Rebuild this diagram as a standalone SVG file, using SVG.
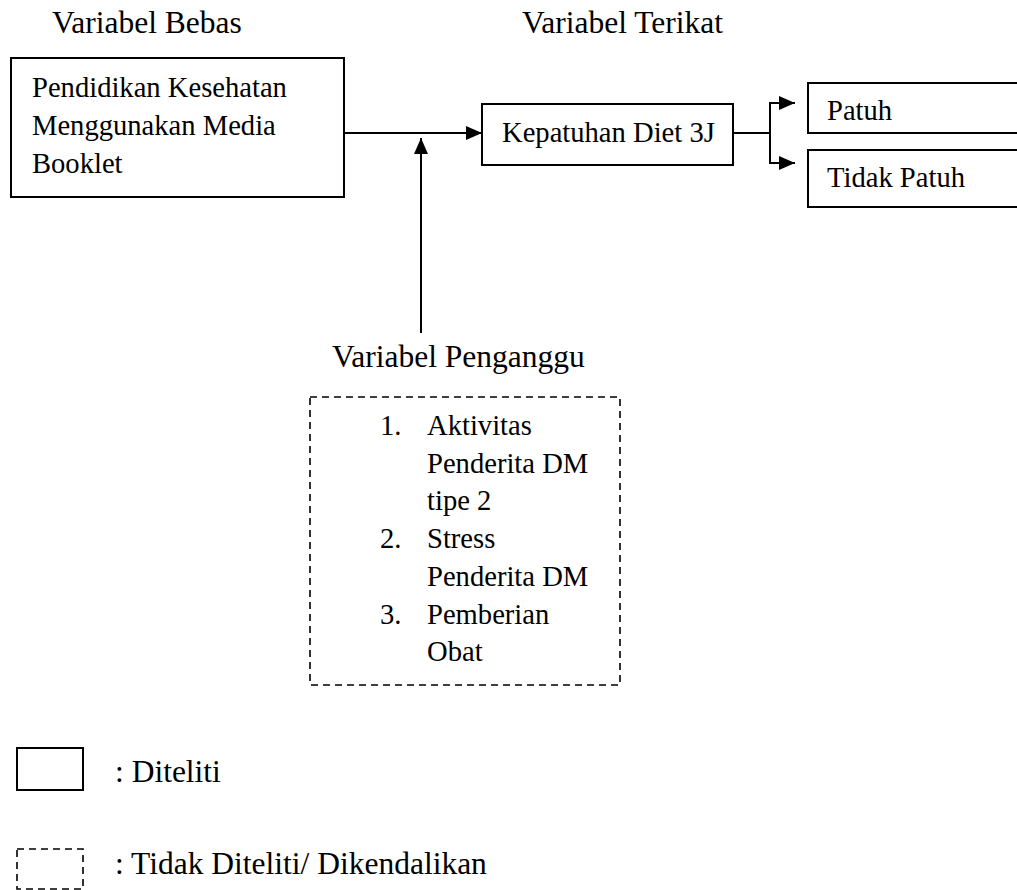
<svg xmlns="http://www.w3.org/2000/svg" width="1017" height="890" viewBox="0 0 1017 890">
<style>
  text { font-family: 'Liberation Serif', 'DejaVu Serif', serif; fill: #000; }
  .t { font-size: 31.5px; }
  .b { font-size: 28.6px; }
  .box { fill: #fff; stroke: #000; stroke-width: 2; }
  .dbox { fill: none; stroke: #000; stroke-width: 1.6; stroke-dasharray: 7 5; }
  .ln { fill: none; stroke: #000; stroke-width: 2; }
</style>
<defs>
  <marker id="ah" viewBox="0 0 16 14" refX="16" refY="7" markerWidth="16" markerHeight="14" markerUnits="userSpaceOnUse" orient="auto">
    <path d="M0,0 L16,7 L0,14 Z" fill="#000"/>
  </marker>
</defs>
<rect width="1017" height="890" fill="#fff"/>

<text class="t" x="52" y="33">Variabel Bebas</text>
<text class="t" x="522" y="33">Variabel Terikat</text>
<text class="t" x="332" y="367">Variabel Penganggu</text>

<g id="node-pendidikan">
  <rect class="box" x="11" y="58" width="333" height="139"/>
  <text class="b" x="32" y="97">Pendidikan Kesehatan</text>
  <text class="b" x="32" y="135">Menggunakan Media</text>
  <text class="b" x="32" y="173">Booklet</text>
</g>

<g id="node-kepatuhan">
  <rect class="box" x="482" y="104" width="251" height="61"/>
  <text class="b" x="502" y="142">Kepatuhan Diet 3J</text>
</g>

<g id="node-patuh">
  <rect class="box" x="808" y="83" width="230" height="50"/>
  <text class="b" x="827" y="120">Patuh</text>
</g>

<g id="node-tidak-patuh">
  <rect class="box" x="808" y="150" width="230" height="57"/>
  <text class="b" x="827" y="187">Tidak Patuh</text>
</g>

<g id="node-penganggu">
  <rect class="dbox" x="310" y="397" width="310" height="288"/>
  <text class="b" x="380" y="435">1.</text>
  <text class="b" x="427" y="435">Aktivitas</text>
  <text class="b" x="427" y="472.7">Penderita DM</text>
  <text class="b" x="427" y="510.4">tipe 2</text>
  <text class="b" x="380" y="548.1">2.</text>
  <text class="b" x="427" y="548.1">Stress</text>
  <text class="b" x="427" y="585.8">Penderita DM</text>
  <text class="b" x="380" y="623.5">3.</text>
  <text class="b" x="427" y="623.5">Pemberian</text>
  <text class="b" x="427" y="661.2">Obat</text>
</g>

<g id="connectors">
  <line class="ln" x1="344" y1="133" x2="482" y2="133" marker-end="url(#ah)"/>
  <line class="ln" x1="421" y1="333" x2="421" y2="138" marker-end="url(#ah)"/>
  <polyline class="ln" points="733,133 770,133"/>
  <line class="ln" x1="770" y1="102" x2="770" y2="164"/>
  <line class="ln" x1="769" y1="103" x2="795" y2="103" marker-end="url(#ah)"/>
  <line class="ln" x1="769" y1="163" x2="795" y2="163" marker-end="url(#ah)"/>
</g>

<g id="legend-diteliti">
  <rect class="box" x="17" y="748" width="66" height="42"/>
  <text class="t" x="115" y="782">: Diteliti</text>
</g>
<g id="legend-tidak-diteliti">
  <rect class="dbox" x="17" y="849" width="66" height="40"/>
  <text class="t" x="115" y="874">: Tidak Diteliti/ Dikendalikan</text>
</g>
</svg>
